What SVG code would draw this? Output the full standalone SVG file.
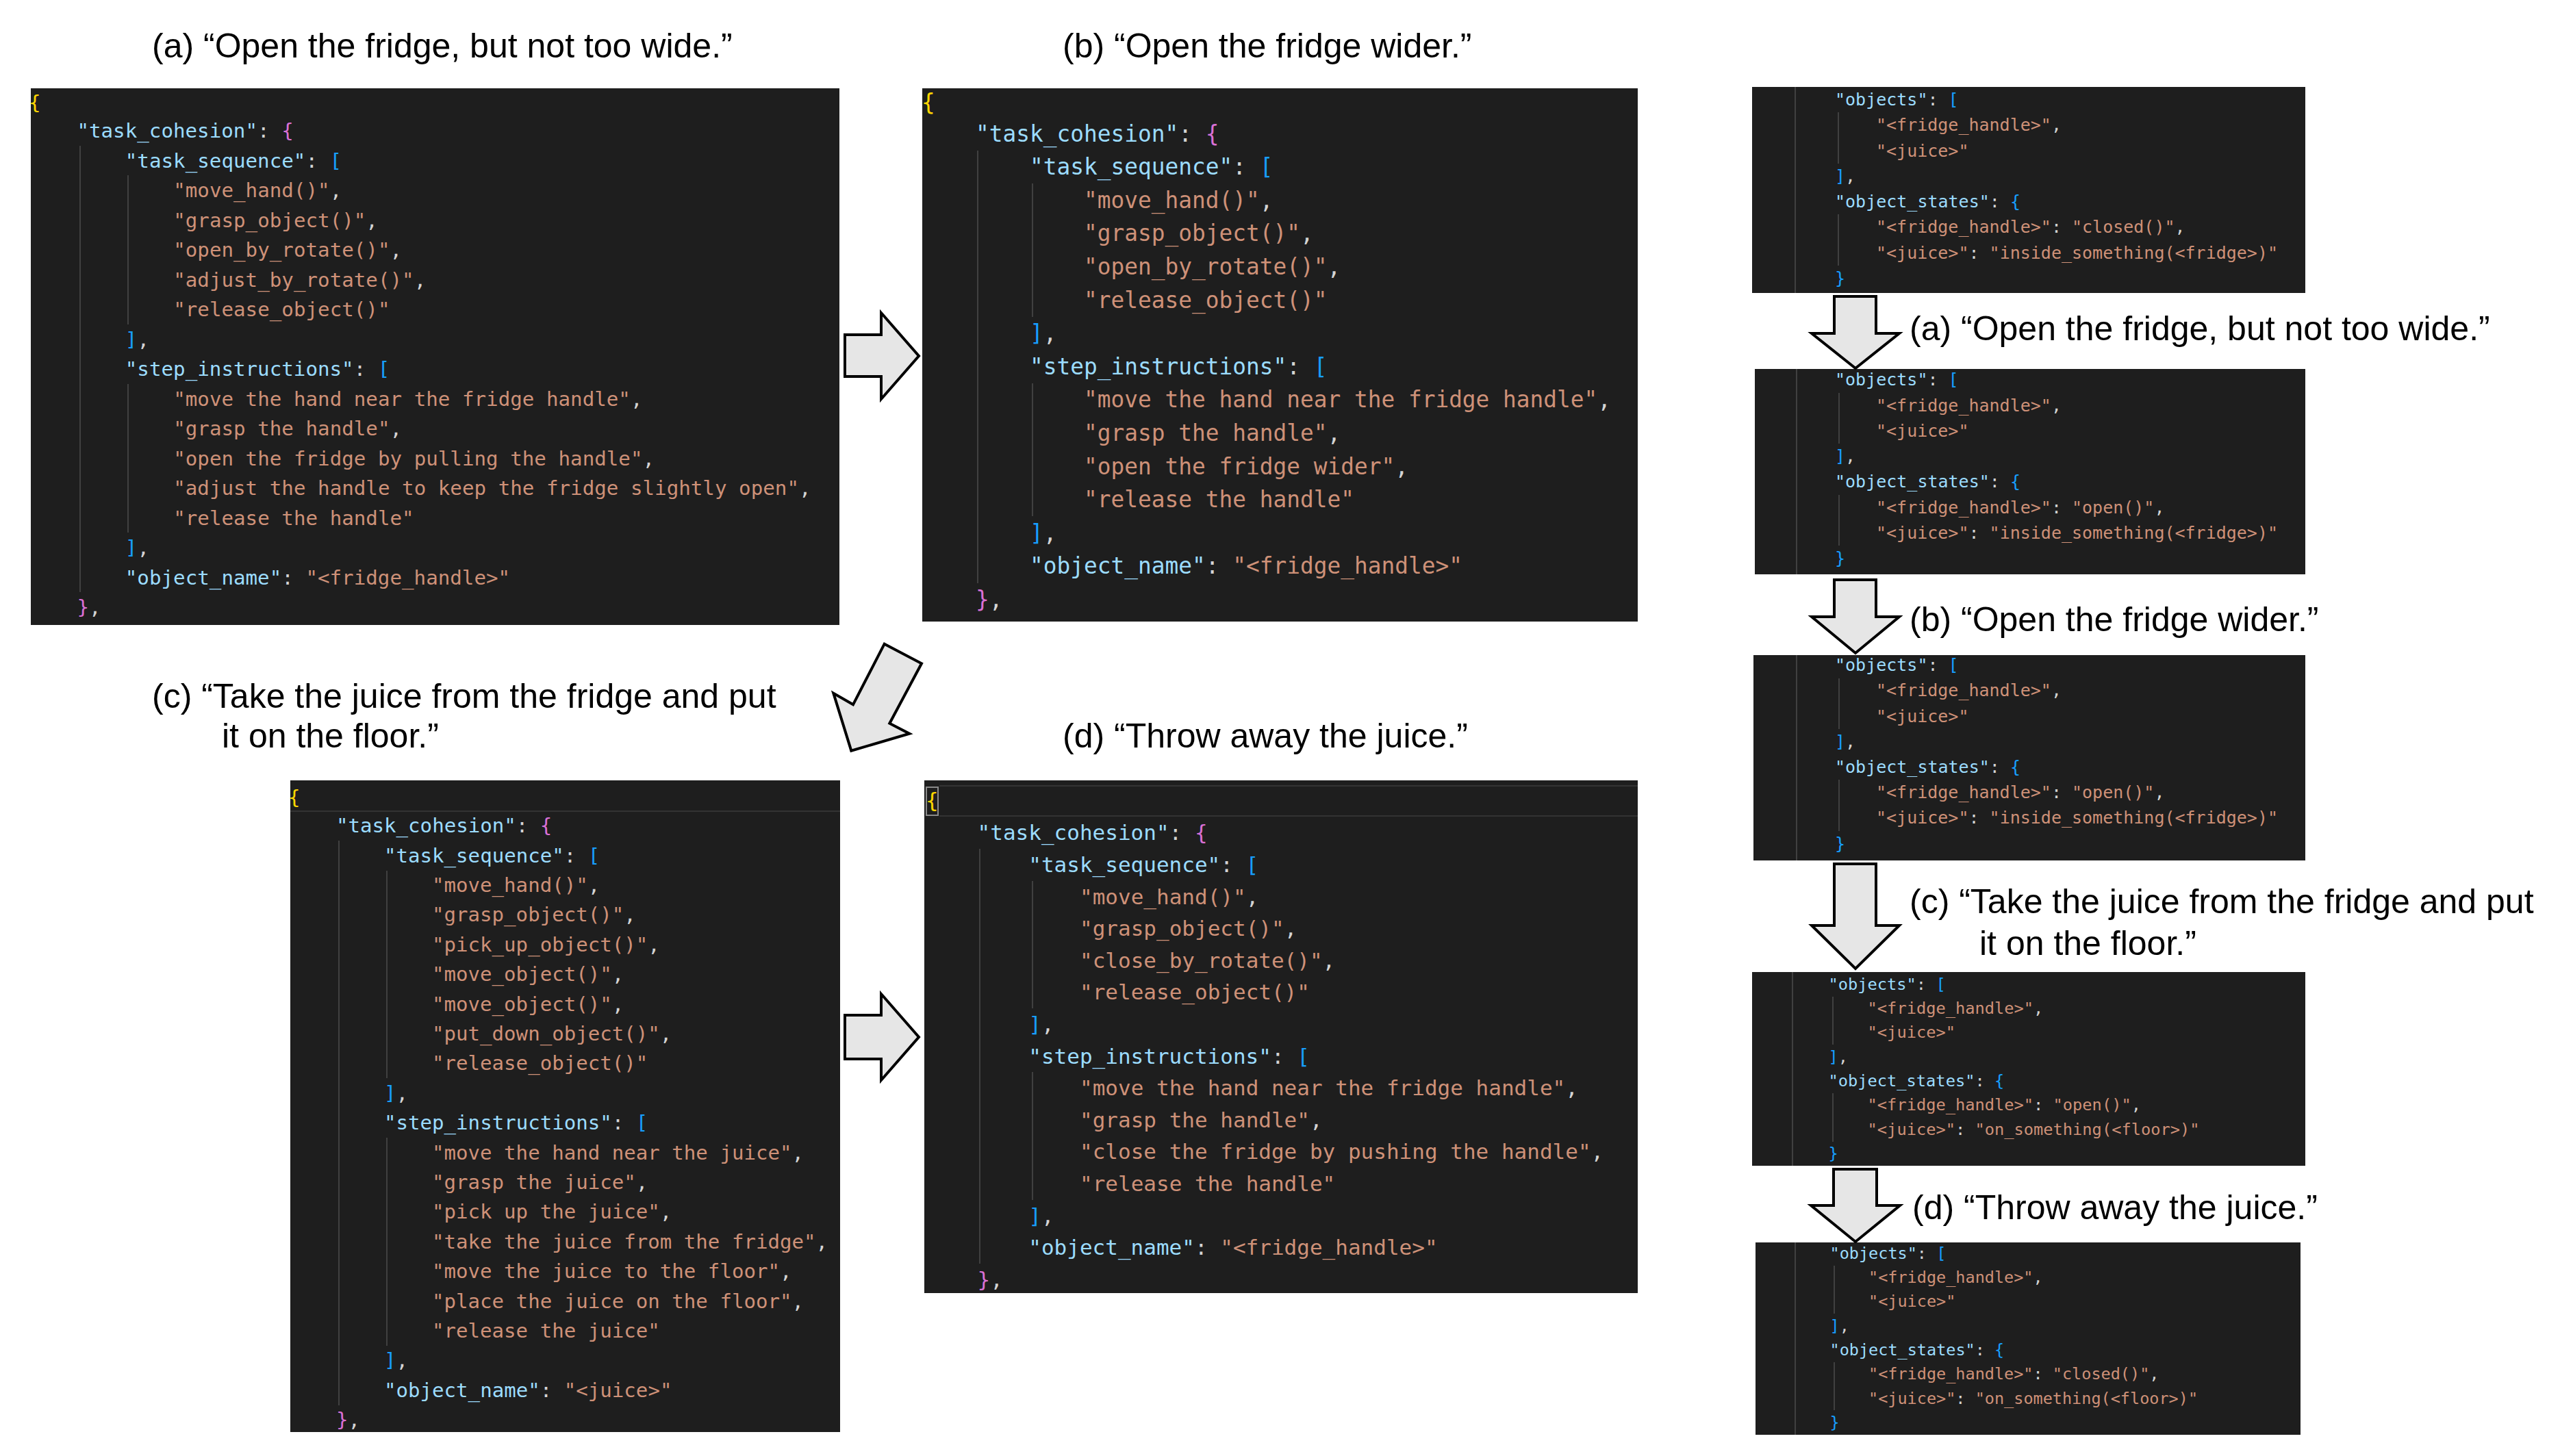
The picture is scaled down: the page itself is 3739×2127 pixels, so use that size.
<svg xmlns="http://www.w3.org/2000/svg" width="3739" height="2127" viewBox="0 0 3739 2127" xml:space="preserve">
<style>
.code{font-family:"DejaVu Sans Mono","Liberation Mono",monospace}
.bg{fill:#1e1e1e}
.k{fill:#9cdcfe}
.s{fill:#ce9178}
.p{fill:#d4d4d4}
.y{fill:#ffd700}
.m{fill:#da70d6}
.bl{fill:#179fff}
.guide{stroke:#404040;stroke-width:2}
.hl{stroke:#333333;stroke-width:2;fill:none}
.lbl{font-family:"Liberation Sans",Arial,sans-serif;font-size:50px;fill:#000}
.arrow{fill:#e6e6e6;stroke:#000;stroke-width:4;stroke-linejoin:miter}
</style>
<rect width="3739" height="2127" fill="#ffffff"/>
<g id="box-a" class="code" font-size="29.2">
<rect class="bg" x="45" y="129" width="1181" height="784"/>
<line class="guide" x1="117" y1="213" x2="117" y2="865"/>
<line class="guide" x1="187" y1="256" x2="187" y2="474"/>
<line class="guide" x1="187" y1="561" x2="187" y2="778"/>
<text x="42" y="160" class="y">{</text>
<text x="112.4" y="201"><tspan class="k">"task_cohesion"</tspan><tspan class="p">: </tspan><tspan class="m">{</tspan></text>
<text x="182.8" y="244.5"><tspan class="k">"task_sequence"</tspan><tspan class="p">: </tspan><tspan class="bl">[</tspan></text>
<text x="253.2" y="288"><tspan class="s">"move_hand()"</tspan><tspan class="p">,</tspan></text>
<text x="253.2" y="331.5"><tspan class="s">"grasp_object()"</tspan><tspan class="p">,</tspan></text>
<text x="253.2" y="375"><tspan class="s">"open_by_rotate()"</tspan><tspan class="p">,</tspan></text>
<text x="253.2" y="418.5"><tspan class="s">"adjust_by_rotate()"</tspan><tspan class="p">,</tspan></text>
<text x="253.2" y="462"><tspan class="s">"release_object()"</tspan></text>
<text x="182.8" y="505.5"><tspan class="bl">]</tspan><tspan class="p">,</tspan></text>
<text x="182.8" y="549"><tspan class="k">"step_instructions"</tspan><tspan class="p">: </tspan><tspan class="bl">[</tspan></text>
<text x="253.2" y="592.5"><tspan class="s">"move the hand near the fridge handle"</tspan><tspan class="p">,</tspan></text>
<text x="253.2" y="636"><tspan class="s">"grasp the handle"</tspan><tspan class="p">,</tspan></text>
<text x="253.2" y="679.5"><tspan class="s">"open the fridge by pulling the handle"</tspan><tspan class="p">,</tspan></text>
<text x="253.2" y="723"><tspan class="s">"adjust the handle to keep the fridge slightly open"</tspan><tspan class="p">,</tspan></text>
<text x="253.2" y="766.5"><tspan class="s">"release the handle"</tspan></text>
<text x="182.8" y="810"><tspan class="bl">]</tspan><tspan class="p">,</tspan></text>
<text x="182.8" y="853.5"><tspan class="k">"object_name"</tspan><tspan class="p">: </tspan><tspan class="s">"&lt;fridge_handle&gt;"</tspan></text>
<text x="112.4" y="897"><tspan class="m">}</tspan><tspan class="p">,</tspan></text>
</g>
<g id="box-b" class="code" font-size="32.8">
<rect class="bg" x="1347" y="129" width="1045" height="779"/>
<line class="guide" x1="1428" y1="220" x2="1428" y2="852"/>
<line class="guide" x1="1508" y1="268" x2="1508" y2="463"/>
<line class="guide" x1="1508" y1="560" x2="1508" y2="754"/>
<text x="1346" y="161" class="y">{</text>
<text x="1425" y="206.5"><tspan class="k">"task_cohesion"</tspan><tspan class="p">: </tspan><tspan class="m">{</tspan></text>
<text x="1504" y="255.1"><tspan class="k">"task_sequence"</tspan><tspan class="p">: </tspan><tspan class="bl">[</tspan></text>
<text x="1583" y="303.7"><tspan class="s">"move_hand()"</tspan><tspan class="p">,</tspan></text>
<text x="1583" y="352.3"><tspan class="s">"grasp_object()"</tspan><tspan class="p">,</tspan></text>
<text x="1583" y="400.9"><tspan class="s">"open_by_rotate()"</tspan><tspan class="p">,</tspan></text>
<text x="1583" y="449.5"><tspan class="s">"release_object()"</tspan></text>
<text x="1504" y="498.1"><tspan class="bl">]</tspan><tspan class="p">,</tspan></text>
<text x="1504" y="546.7"><tspan class="k">"step_instructions"</tspan><tspan class="p">: </tspan><tspan class="bl">[</tspan></text>
<text x="1583" y="595.3"><tspan class="s">"move the hand near the fridge handle"</tspan><tspan class="p">,</tspan></text>
<text x="1583" y="643.9"><tspan class="s">"grasp the handle"</tspan><tspan class="p">,</tspan></text>
<text x="1583" y="692.5"><tspan class="s">"open the fridge wider"</tspan><tspan class="p">,</tspan></text>
<text x="1583" y="741.1"><tspan class="s">"release the handle"</tspan></text>
<text x="1504" y="789.7"><tspan class="bl">]</tspan><tspan class="p">,</tspan></text>
<text x="1504" y="838.3"><tspan class="k">"object_name"</tspan><tspan class="p">: </tspan><tspan class="s">"&lt;fridge_handle&gt;"</tspan></text>
<text x="1425" y="886.9"><tspan class="m">}</tspan><tspan class="p">,</tspan></text>
</g>
<g id="box-c" class="code" font-size="29.1">
<rect class="bg" x="424" y="1140" width="803" height="952"/>
<line class="hl" x1="424" y1="1185" x2="1227" y2="1185"/>
<line class="guide" x1="495" y1="1228" x2="495" y2="2053"/>
<line class="guide" x1="565" y1="1272" x2="565" y2="1575"/>
<line class="guide" x1="565" y1="1662" x2="565" y2="1966"/>
<text x="421" y="1175" class="y">{</text>
<text x="491" y="1216"><tspan class="k">"task_cohesion"</tspan><tspan class="p">: </tspan><tspan class="m">{</tspan></text>
<text x="561" y="1259.5"><tspan class="k">"task_sequence"</tspan><tspan class="p">: </tspan><tspan class="bl">[</tspan></text>
<text x="631" y="1303"><tspan class="s">"move_hand()"</tspan><tspan class="p">,</tspan></text>
<text x="631" y="1346.3"><tspan class="s">"grasp_object()"</tspan><tspan class="p">,</tspan></text>
<text x="631" y="1389.7"><tspan class="s">"pick_up_object()"</tspan><tspan class="p">,</tspan></text>
<text x="631" y="1433"><tspan class="s">"move_object()"</tspan><tspan class="p">,</tspan></text>
<text x="631" y="1476.5"><tspan class="s">"move_object()"</tspan><tspan class="p">,</tspan></text>
<text x="631" y="1520"><tspan class="s">"put_down_object()"</tspan><tspan class="p">,</tspan></text>
<text x="631" y="1563.3"><tspan class="s">"release_object()"</tspan></text>
<text x="561" y="1606.7"><tspan class="bl">]</tspan><tspan class="p">,</tspan></text>
<text x="561" y="1650"><tspan class="k">"step_instructions"</tspan><tspan class="p">: </tspan><tspan class="bl">[</tspan></text>
<text x="631" y="1693.5"><tspan class="s">"move the hand near the juice"</tspan><tspan class="p">,</tspan></text>
<text x="631" y="1737"><tspan class="s">"grasp the juice"</tspan><tspan class="p">,</tspan></text>
<text x="631" y="1780.3"><tspan class="s">"pick up the juice"</tspan><tspan class="p">,</tspan></text>
<text x="631" y="1823.7"><tspan class="s">"take the juice from the fridge"</tspan><tspan class="p">,</tspan></text>
<text x="631" y="1867"><tspan class="s">"move the juice to the floor"</tspan><tspan class="p">,</tspan></text>
<text x="631" y="1910.5"><tspan class="s">"place the juice on the floor"</tspan><tspan class="p">,</tspan></text>
<text x="631" y="1954"><tspan class="s">"release the juice"</tspan></text>
<text x="561" y="1997.3"><tspan class="bl">]</tspan><tspan class="p">,</tspan></text>
<text x="561" y="2040.7"><tspan class="k">"object_name"</tspan><tspan class="p">: </tspan><tspan class="s">"&lt;juice&gt;"</tspan></text>
<text x="491" y="2084"><tspan class="m">}</tspan><tspan class="p">,</tspan></text>
</g>
<g id="box-d" class="code" font-size="31">
<rect class="bg" x="1350" y="1140" width="1042" height="749"/>
<line class="hl" x1="1372" y1="1148" x2="2392" y2="1148"/>
<line class="hl" x1="1372" y1="1192" x2="2392" y2="1192"/>
<rect x="1353" y="1150" width="17" height="41" fill="none" stroke="#8a8a8a" stroke-width="2"/>
<line class="guide" x1="1431" y1="1240" x2="1431" y2="1846"/>
<line class="guide" x1="1508" y1="1287" x2="1508" y2="1473"/>
<line class="guide" x1="1508" y1="1566" x2="1508" y2="1753"/>
<text x="1352" y="1180.3" class="y">{</text>
<text x="1427.6" y="1227.3"><tspan class="k">"task_cohesion"</tspan><tspan class="p">: </tspan><tspan class="m">{</tspan></text>
<text x="1502.3" y="1273.9"><tspan class="k">"task_sequence"</tspan><tspan class="p">: </tspan><tspan class="bl">[</tspan></text>
<text x="1577" y="1320.5"><tspan class="s">"move_hand()"</tspan><tspan class="p">,</tspan></text>
<text x="1577" y="1367.1"><tspan class="s">"grasp_object()"</tspan><tspan class="p">,</tspan></text>
<text x="1577" y="1413.7"><tspan class="s">"close_by_rotate()"</tspan><tspan class="p">,</tspan></text>
<text x="1577" y="1460.3"><tspan class="s">"release_object()"</tspan></text>
<text x="1502.3" y="1506.9"><tspan class="bl">]</tspan><tspan class="p">,</tspan></text>
<text x="1502.3" y="1553.5"><tspan class="k">"step_instructions"</tspan><tspan class="p">: </tspan><tspan class="bl">[</tspan></text>
<text x="1577" y="1600.1"><tspan class="s">"move the hand near the fridge handle"</tspan><tspan class="p">,</tspan></text>
<text x="1577" y="1646.7"><tspan class="s">"grasp the handle"</tspan><tspan class="p">,</tspan></text>
<text x="1577" y="1693.3"><tspan class="s">"close the fridge by pushing the handle"</tspan><tspan class="p">,</tspan></text>
<text x="1577" y="1739.9"><tspan class="s">"release the handle"</tspan></text>
<text x="1502.3" y="1786.5"><tspan class="bl">]</tspan><tspan class="p">,</tspan></text>
<text x="1502.3" y="1833.1"><tspan class="k">"object_name"</tspan><tspan class="p">: </tspan><tspan class="s">"&lt;fridge_handle&gt;"</tspan></text>
<text x="1427.6" y="1879.7"><tspan class="m">}</tspan><tspan class="p">,</tspan></text>
</g>
<g id="state-0" class="code" font-size="25">
<rect class="bg" x="2559" y="127" width="808" height="301"/>
<line class="guide" x1="2622" y1="127" x2="2622" y2="428"/>
<line class="guide" x1="2685" y1="164" x2="2685" y2="239"/>
<line class="guide" x1="2685" y1="313" x2="2685" y2="388"/>
<text x="2680" y="153.9"><tspan class="k">"objects"</tspan><tspan class="p">: </tspan><tspan class="bl">[</tspan></text>
<text x="2740" y="191.2"><tspan class="s">"&lt;fridge_handle&gt;"</tspan><tspan class="p">,</tspan></text>
<text x="2740" y="228.5"><tspan class="s">"&lt;juice&gt;"</tspan></text>
<text x="2680" y="265.8"><tspan class="bl">]</tspan><tspan class="p">,</tspan></text>
<text x="2680" y="303.1"><tspan class="k">"object_states"</tspan><tspan class="p">: </tspan><tspan class="bl">{</tspan></text>
<text x="2740" y="340.4"><tspan class="s">"&lt;fridge_handle&gt;"</tspan><tspan class="p">: </tspan><tspan class="s">"closed()"</tspan><tspan class="p">,</tspan></text>
<text x="2740" y="377.7"><tspan class="s">"&lt;juice&gt;"</tspan><tspan class="p">: </tspan><tspan class="s">"inside_something(&lt;fridge&gt;)"</tspan></text>
<text x="2680" y="415"><tspan class="bl">}</tspan></text>
</g>
<g id="state-a" class="code" font-size="25">
<rect class="bg" x="2563" y="539" width="804" height="300"/>
<line class="guide" x1="2624" y1="539" x2="2624" y2="839"/>
<line class="guide" x1="2686" y1="574" x2="2686" y2="648"/>
<line class="guide" x1="2686" y1="723" x2="2686" y2="797"/>
<text x="2680" y="563.2"><tspan class="k">"objects"</tspan><tspan class="p">: </tspan><tspan class="bl">[</tspan></text>
<text x="2740" y="600.5"><tspan class="s">"&lt;fridge_handle&gt;"</tspan><tspan class="p">,</tspan></text>
<text x="2740" y="637.8"><tspan class="s">"&lt;juice&gt;"</tspan></text>
<text x="2680" y="675.1"><tspan class="bl">]</tspan><tspan class="p">,</tspan></text>
<text x="2680" y="712.4"><tspan class="k">"object_states"</tspan><tspan class="p">: </tspan><tspan class="bl">{</tspan></text>
<text x="2740" y="749.7"><tspan class="s">"&lt;fridge_handle&gt;"</tspan><tspan class="p">: </tspan><tspan class="s">"open()"</tspan><tspan class="p">,</tspan></text>
<text x="2740" y="787"><tspan class="s">"&lt;juice&gt;"</tspan><tspan class="p">: </tspan><tspan class="s">"inside_something(&lt;fridge&gt;)"</tspan></text>
<text x="2680" y="824.3"><tspan class="bl">}</tspan></text>
</g>
<g id="state-b" class="code" font-size="25">
<rect class="bg" x="2561" y="957" width="806" height="300"/>
<line class="guide" x1="2624" y1="957" x2="2624" y2="1257"/>
<line class="guide" x1="2686" y1="991" x2="2686" y2="1065"/>
<line class="guide" x1="2686" y1="1139" x2="2686" y2="1214"/>
<text x="2680" y="980.2"><tspan class="k">"objects"</tspan><tspan class="p">: </tspan><tspan class="bl">[</tspan></text>
<text x="2740" y="1017.4"><tspan class="s">"&lt;fridge_handle&gt;"</tspan><tspan class="p">,</tspan></text>
<text x="2740" y="1054.6"><tspan class="s">"&lt;juice&gt;"</tspan></text>
<text x="2680" y="1091.8"><tspan class="bl">]</tspan><tspan class="p">,</tspan></text>
<text x="2680" y="1129"><tspan class="k">"object_states"</tspan><tspan class="p">: </tspan><tspan class="bl">{</tspan></text>
<text x="2740" y="1166.2"><tspan class="s">"&lt;fridge_handle&gt;"</tspan><tspan class="p">: </tspan><tspan class="s">"open()"</tspan><tspan class="p">,</tspan></text>
<text x="2740" y="1203.4"><tspan class="s">"&lt;juice&gt;"</tspan><tspan class="p">: </tspan><tspan class="s">"inside_something(&lt;fridge&gt;)"</tspan></text>
<text x="2680" y="1240.6"><tspan class="bl">}</tspan></text>
</g>
<g id="state-c" class="code" font-size="23.7">
<rect class="bg" x="2559" y="1420" width="808" height="283"/>
<line class="guide" x1="2618" y1="1420" x2="2618" y2="1703"/>
<line class="guide" x1="2677" y1="1456" x2="2677" y2="1526"/>
<line class="guide" x1="2677" y1="1597" x2="2677" y2="1668"/>
<text x="2670.5" y="1445.8"><tspan class="k">"objects"</tspan><tspan class="p">: </tspan><tspan class="bl">[</tspan></text>
<text x="2727.6" y="1481.1"><tspan class="s">"&lt;fridge_handle&gt;"</tspan><tspan class="p">,</tspan></text>
<text x="2727.6" y="1516.4"><tspan class="s">"&lt;juice&gt;"</tspan></text>
<text x="2670.5" y="1551.7"><tspan class="bl">]</tspan><tspan class="p">,</tspan></text>
<text x="2670.5" y="1587"><tspan class="k">"object_states"</tspan><tspan class="p">: </tspan><tspan class="bl">{</tspan></text>
<text x="2727.6" y="1622.3"><tspan class="s">"&lt;fridge_handle&gt;"</tspan><tspan class="p">: </tspan><tspan class="s">"open()"</tspan><tspan class="p">,</tspan></text>
<text x="2727.6" y="1657.6"><tspan class="s">"&lt;juice&gt;"</tspan><tspan class="p">: </tspan><tspan class="s">"on_something(&lt;floor&gt;)"</tspan></text>
<text x="2670.5" y="1692.9"><tspan class="bl">}</tspan></text>
</g>
<g id="state-d" class="code" font-size="23.5">
<rect class="bg" x="2564" y="1815" width="796" height="281"/>
<line class="guide" x1="2622" y1="1815" x2="2622" y2="2096"/>
<line class="guide" x1="2679" y1="1849" x2="2679" y2="1919"/>
<line class="guide" x1="2679" y1="1990" x2="2679" y2="2060"/>
<text x="2672.5" y="1838.8"><tspan class="k">"objects"</tspan><tspan class="p">: </tspan><tspan class="bl">[</tspan></text>
<text x="2729" y="1874.1"><tspan class="s">"&lt;fridge_handle&gt;"</tspan><tspan class="p">,</tspan></text>
<text x="2729" y="1909.4"><tspan class="s">"&lt;juice&gt;"</tspan></text>
<text x="2672.5" y="1944.7"><tspan class="bl">]</tspan><tspan class="p">,</tspan></text>
<text x="2672.5" y="1980"><tspan class="k">"object_states"</tspan><tspan class="p">: </tspan><tspan class="bl">{</tspan></text>
<text x="2729" y="2015.3"><tspan class="s">"&lt;fridge_handle&gt;"</tspan><tspan class="p">: </tspan><tspan class="s">"closed()"</tspan><tspan class="p">,</tspan></text>
<text x="2729" y="2050.6"><tspan class="s">"&lt;juice&gt;"</tspan><tspan class="p">: </tspan><tspan class="s">"on_something(&lt;floor&gt;)"</tspan></text>
<text x="2672.5" y="2085.9"><tspan class="bl">}</tspan></text>
</g>
<g id="labels" class="lbl">
<text x="222" y="84">(a) “Open the fridge, but not too wide.”</text>
<text x="1552" y="84">(b) “Open the fridge wider.”</text>
<text x="222" y="1034">(c) “Take the juice from the fridge and put</text>
<text x="324" y="1092">it on the floor.”</text>
<text x="1552" y="1092">(d) “Throw away the juice.”</text>
<text x="2789" y="497">(a) “Open the fridge, but not too wide.”</text>
<text x="2789" y="922">(b) “Open the fridge wider.”</text>
<text x="2789" y="1334">(c) “Take the juice from the fridge and put</text>
<text x="2891" y="1395">it on the floor.”</text>
<text x="2793" y="1781">(d) “Throw away the juice.”</text>
</g>
<g id="connectors">
<path class="arrow" d="M1234,489 L1287,489 L1287,457 L1342,520 L1287,583 L1287,550 L1234,550 Z"/>
<path class="arrow" d="M1291.7,940.7 L1346,969.3 L1299.3,1056.7 L1328.3,1071.7 L1243.3,1096.7 L1217.3,1012.7 L1246,1029.3 Z"/>
<path class="arrow" d="M1234,1483 L1287,1483 L1287,1452 L1342,1515 L1287,1578 L1287,1547 L1234,1547 Z"/>
<path class="arrow" d="M2679,433 L2740,433 L2740,487 L2774,487 L2710,538 L2646,487 L2679,487 Z"/>
<path class="arrow" d="M2679,847 L2740,847 L2740,901 L2774,901 L2710,954 L2646,901 L2679,901 Z"/>
<path class="arrow" d="M2679,1262 L2740,1262 L2740,1352 L2774,1352 L2710,1415 L2646,1352 L2679,1352 Z"/>
<path class="arrow" d="M2678,1708 L2741,1708 L2741,1761 L2775,1761 L2710,1814 L2645,1761 L2678,1761 Z"/>
</g>
</svg>
